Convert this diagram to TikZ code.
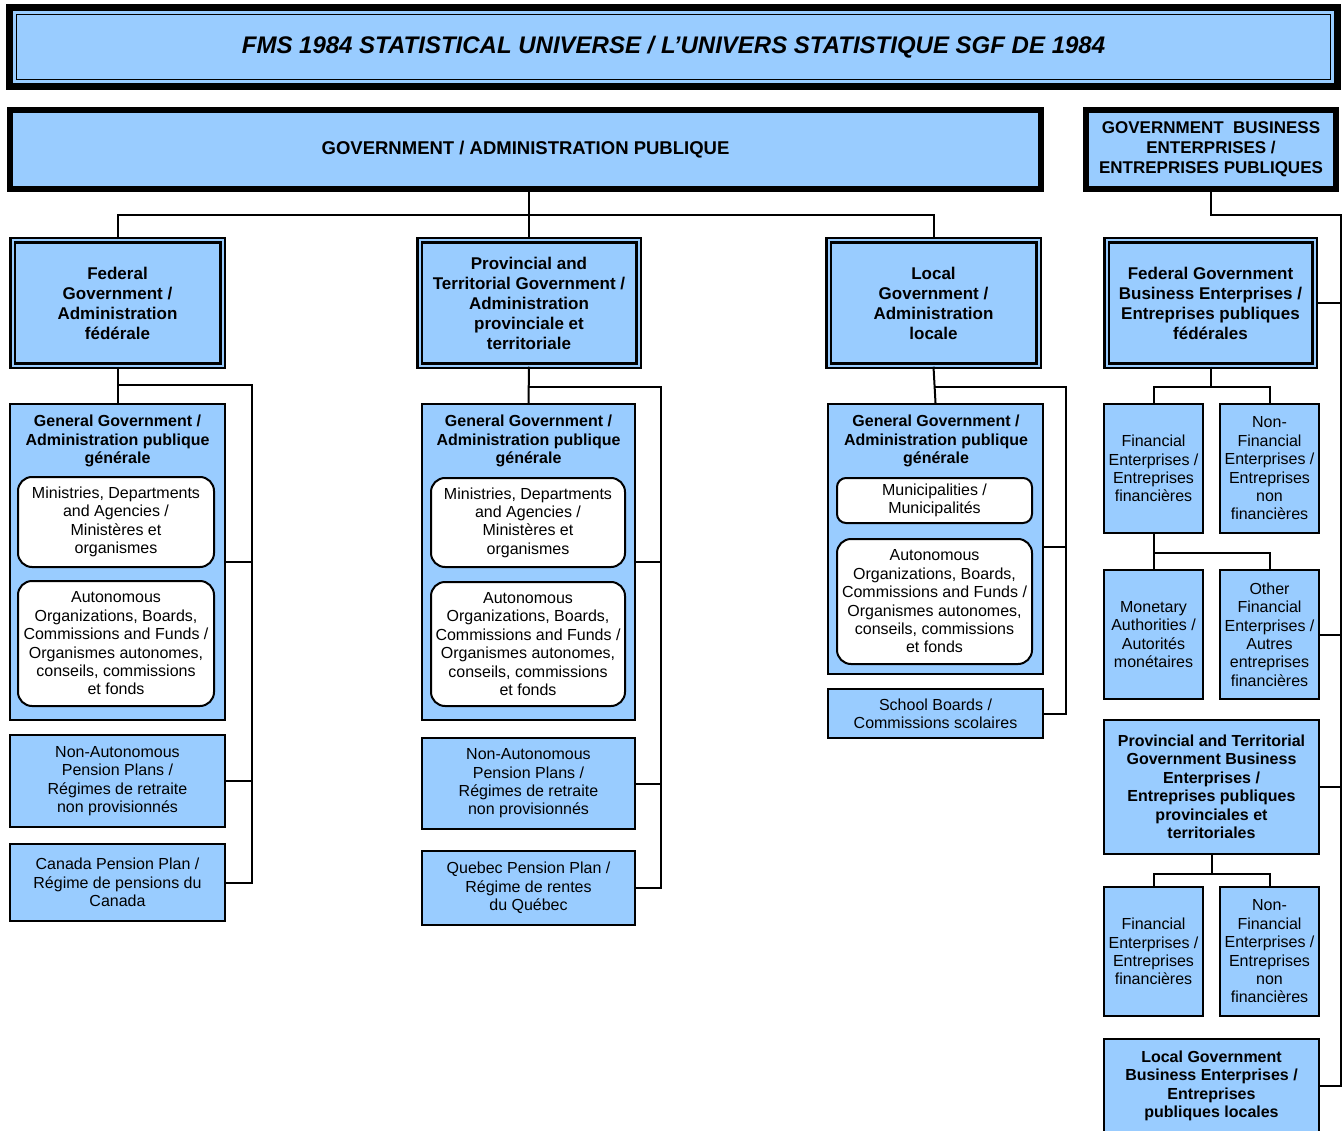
\documentclass[tikz,border=0pt]{standalone}
\usepackage{fontspec}
\setmainfont{Liberation Sans}
\definecolor{boxblue}{RGB}{153,204,255}
\newcommand{\boxfont}{\fontsize{16pt}{18.4pt}\selectfont}
\newcommand{\subfont}{\bfseries\fontsize{16pt}{18.5pt}\selectfont}
\newcommand{\headfont}{\bfseries\fontsize{17pt}{20pt}\selectfont}
\newcommand{\govfont}{\bfseries\fontsize{18.5pt}{22pt}\selectfont}
\newcommand{\titlefont}{\bfseries\itshape\fontsize{24pt}{28pt}\selectfont}
\begin{document}
\begin{tikzpicture}[x=1pt,y=-1pt,
    every node/.style={inner sep=0pt, align=center},
    leafbox/.style={draw, line width=2pt, fill=boxblue, font=\boxfont},
    groupbox/.style={draw, line width=2pt, fill=boxblue},
    pillbox/.style={draw, line width=2pt, fill=white, rounded corners=14pt, font=\boxfont},
    tierbox/.style={draw, line width=2.5pt, double=boxblue, double distance=2pt, fill=boxblue, font=\headfont},
    mainbox/.style={draw, line width=6pt, fill=boxblue},
    wire/.style={line width=2pt}]
  \useasboundingbox (0,0) rectangle (1343,1131);
  \clip (0,0) rectangle (1343,1131);

  % title
  \node (title) [draw, line width=7pt, fill=boxblue, minimum width=1328pt, minimum height=79pt, font=\titlefont] at (673.5,47)
    {FMS 1984 STATISTICAL UNIVERSE / L’UNIVERS STATISTIQUE SGF DE 1984};
  \draw[line width=1.5pt] ([shift={(10.5pt,-10.5pt)}]title.north west) rectangle ([shift={(-10.5pt,10.5pt)}]title.south east);

  % top level
  \node (gov) [mainbox, minimum width=1031pt, minimum height=79pt, font=\govfont] at (525.5,149.5)
    {GOVERNMENT / ADMINISTRATION PUBLIQUE};
  \node (gbe) [mainbox, minimum width=250pt, minimum height=79pt, font=\headfont] at (1211,149.5)
    {GOVERNMENT\ \ BUSINESS\\ ENTERPRISES /\\ ENTREPRISES PUBLIQUES};

  % second level
  \node (fed) [tierbox, minimum width=210pt, minimum height=125pt] at (117.5,303)
    {Federal\\ Government /\\ Administration\\ fédérale};
  \node (prov) [tierbox, minimum width=219pt, minimum height=125pt] at (529,303)
    {Provincial and\\ Territorial Government /\\ Administration\\ provinciale et\\ territoriale};
  \node (loc) [tierbox, minimum width=210pt, minimum height=125pt] at (933.5,303)
    {Local\\ Government /\\ Administration\\ locale};
  \node (fgbe) [tierbox, minimum width=208pt, minimum height=125pt] at (1210.5,303)
    {Federal Government\\ Business Enterprises /\\ Entreprises publiques\\ fédérales};

  % federal column
  \node (fgg) [groupbox, minimum width=215pt, minimum height=316pt] at (117.5,562) {};
  \node (fggt) [font=\subfont] at (117.5,441) {General Government /\\ Administration publique\\ générale};
  \node (fmin) [pillbox, minimum width=196pt, minimum height=90pt] at (116,522)
    {Ministries, Departments\\ and Agencies /\\ Ministères et\\ organismes};
  \node (faut) [pillbox, minimum width=196pt, minimum height=125pt] at (116,643.5)
    {Autonomous\\ Organizations, Boards,\\ Commissions and Funds /\\ Organismes autonomes,\\ conseils, commissions\\ et fonds};
  \node (fnap) [leafbox, minimum width=215pt, minimum height=92pt] at (117.5,781)
    {Non-Autonomous\\ Pension Plans /\\ Régimes de retraite\\ non provisionnés};
  \node (fcpp) [leafbox, minimum width=215pt, minimum height=77pt] at (117.5,882.5)
    {Canada Pension Plan /\\ Régime de pensions du\\ Canada};

  % provincial column
  \node (pgg) [groupbox, minimum width=213pt, minimum height=316pt] at (528.5,562) {};
  \node (pggt) [font=\subfont] at (528.5,441) {General Government /\\ Administration publique\\ générale};
  \node (pmin) [pillbox, minimum width=194pt, minimum height=89pt] at (528,522.5)
    {Ministries, Departments\\ and Agencies /\\ Ministères et\\ organismes};
  \node (paut) [pillbox, minimum width=194pt, minimum height=124pt] at (528,644)
    {Autonomous\\ Organizations, Boards,\\ Commissions and Funds /\\ Organismes autonomes,\\ conseils, commissions\\ et fonds};
  \node (pnap) [leafbox, minimum width=213pt, minimum height=91pt] at (528.5,783.5)
    {Non-Autonomous\\ Pension Plans /\\ Régimes de retraite\\ non provisionnés};
  \node (qpp) [leafbox, minimum width=213pt, minimum height=74pt] at (528.5,888)
    {Quebec Pension Plan /\\ Régime de rentes\\ du Québec};

  % local column
  \node (lgg) [groupbox, minimum width=215pt, minimum height=270pt] at (935.5,539) {};
  \node (lggt) [font=\subfont] at (936,441) {General Government /\\ Administration publique\\ générale};
  \node (lmun) [pillbox, rounded corners=9pt, minimum width=195pt, minimum height=45pt] at (934.5,500.5)
    {Municipalities /\\ Municipalités};
  \node (laut) [pillbox, minimum width=195pt, minimum height=125pt] at (934.5,601.5)
    {Autonomous\\ Organizations, Boards,\\ Commissions and Funds /\\ Organismes autonomes,\\ conseils, commissions\\ et fonds};
  \node (lsch) [leafbox, minimum width=215pt, minimum height=49pt] at (935.5,713.5)
    {School Boards /\\ Commissions scolaires};

  % business enterprises column
  \node (ffin) [leafbox, minimum width=99pt, minimum height=129pt] at (1153.5,468.5)
    {Financial\\ Enterprises /\\ Entreprises\\ financières};
  \node (fnfin) [leafbox, minimum width=99pt, minimum height=129pt] at (1269.5,468.5)
    {Non-\\ Financial\\ Enterprises /\\ Entreprises\\ non\\ financières};
  \node (fmon) [leafbox, minimum width=99pt, minimum height=129pt] at (1153.5,634.5)
    {Monetary\\ Authorities /\\ Autorités\\ monétaires};
  \node (fofin) [leafbox, minimum width=99pt, minimum height=129pt] at (1269.5,634.5)
    {Other\\ Financial\\ Enterprises /\\ Autres\\ entreprises\\ financières};
  \node (pgbe) [leafbox, font=\subfont, minimum width=215pt, minimum height=134pt] at (1211.5,787)
    {Provincial and Territorial\\ Government Business\\ Enterprises /\\ Entreprises publiques\\ provinciales et\\ territoriales};
  \node (pfin) [leafbox, minimum width=99pt, minimum height=129pt] at (1153.5,951.5)
    {Financial\\ Enterprises /\\ Entreprises\\ financières};
  \node (pnfin) [leafbox, minimum width=99pt, minimum height=129pt] at (1269.5,951.5)
    {Non-\\ Financial\\ Enterprises /\\ Entreprises\\ non\\ financières};
  \node (lgbe) [leafbox, font=\subfont, minimum width=215pt, minimum height=94pt] at (1211.5,1086)
    {Local Government\\ Business Enterprises /\\ Entreprises\\ publiques locales};

  % connectors
  \coordinate (govbar) at (0,215);
  \draw[wire] (fed.north) -- (fed.north |- govbar) -| (loc.north);
  \draw[wire] (gov.south -| prov.north) -- (prov.north);

  \coordinate (fedbus) at (252,385);
  \draw[wire] (fed.south) -- (fgg.north);
  \draw[wire] (fed.south |- fedbus) -- (fedbus) |- (fcpp.east);
  \draw[wire] (fgg.east) -- (fgg.east -| fedbus);
  \draw[wire] (fnap.east) -- (fnap.east -| fedbus);

  \coordinate (provbus) at (661,387);
  \draw[wire] (prov.south) -- (pgg.north);
  \draw[wire] (prov.south |- provbus) -- (provbus) |- (qpp.east);
  \draw[wire] (pgg.east) -- (pgg.east -| provbus);
  \draw[wire] (pnap.east) -- (pnap.east -| provbus);

  \coordinate (locbus) at (1066,387);
  \draw[wire] (loc.south) -- (lgg.north);
  \draw[wire] (loc.south |- locbus) -- (locbus) |- (lsch.east);
  \draw[wire] ([yshift=-8pt]lgg.east) -- ([yshift=-8pt]lgg.east -| locbus);

  \coordinate (gbebus) at (1341,215);
  \draw[wire] (gbe.south) -- (gbe.south |- gbebus) -- (gbebus) |- (lgbe.east);
  \draw[wire] (fgbe.east) -- (fgbe.east -| gbebus);
  \draw[wire] (fofin.east) -- (fofin.east -| gbebus);
  \draw[wire] (pgbe.east) -- (pgbe.east -| gbebus);

  \coordinate (fgbebar) at (0,387);
  \draw[wire] (fgbe.south) -- (fgbe.south |- fgbebar);
  \draw[wire] (ffin.north) -- (ffin.north |- fgbebar) -| (fnfin.north);
  \coordinate (finbar) at (0,553);
  \draw[wire] (ffin.south) -- (fmon.north);
  \draw[wire] (ffin.south |- finbar) -| (fofin.north);
  \coordinate (pgbebar) at (0,874);
  \draw[wire] (pgbe.south) -- (pgbe.south |- pgbebar);
  \draw[wire] (pfin.north) -- (pfin.north |- pgbebar) -| (pnfin.north);
\end{tikzpicture}
\end{document}
